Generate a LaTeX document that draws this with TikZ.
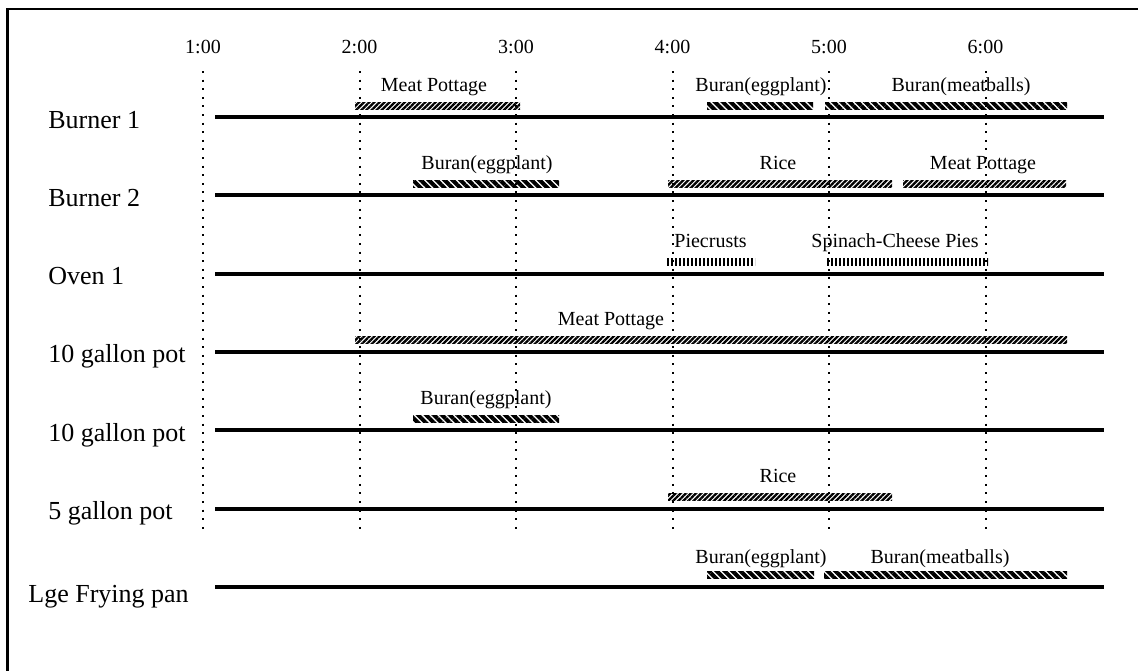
\documentclass[tikz,border=0pt]{standalone}
\usepackage{fontspec}
\setmainfont{Liberation Serif}
\usetikzlibrary{patterns.meta}
\begin{document}
\begin{tikzpicture}[x=0.5pt,y=-0.5pt,
  rowlabel/.style={font=\fontsize{13}{15}\selectfont, anchor=base west, inner sep=0pt},
  tlabel/.style={font=\fontsize{10}{12}\selectfont, anchor=base, inner sep=0pt},
  blabel/.style={font=\fontsize{10}{12}\selectfont, anchor=base, inner sep=0pt},
  track/.style={line width=2pt},
  gridline/.style={line width=1pt, dash pattern=on 1pt off 3.3pt},
  stewbar/.style={pattern={Lines[angle=45,distance=1.8pt,line width=1.15pt]}},
  buranbar/.style={pattern={Lines[angle=-45,distance=2.8pt,line width=2pt]}},
  piebar/.style={pattern={Lines[angle=90,distance=2pt,line width=0.8pt]}},
  frame/.style={line width=1.25pt}
]
\useasboundingbox (0,0) rectangle (1138,670);
\clip (0,0) rectangle (1138,670);
\draw[frame] (7.5,9) rectangle (1160,700);

% time axis
\foreach \i/\x in {1/203,2/359.5,3/516,4/672.5,5/829,6/985.5}{
  \node[tlabel] (t\i) at (\x,53) {\i:00};
  \coordinate (gt\i) at (\x,71);
  \coordinate (gb\i) at (\x,533);
  \draw[gridline] (gt\i) -- (gb\i);
}

% tracks
\foreach \i/\y in {1/117,2/195.3,3/273.6,4/351.9,5/430.2,6/508.5,7/586.8}{
  \coordinate (L\i) at (215,\y);
  \coordinate (R\i) at (1104,\y);
  \draw[track] (L\i) -- (R\i);
}

% row labels
\node[rowlabel] (r1) at (48,128) {Burner 1};
\node[rowlabel] (r2) at (48,206.3) {Burner 2};
\node[rowlabel] (r3) at (48,284.6) {Oven 1};
\node[rowlabel] (r4) at (48,362.9) {10 gallon pot};
\node[rowlabel] (r5) at (48,441.2) {10 gallon pot};
\node[rowlabel] (r6) at (48,519.5) {5 gallon pot};
\node[rowlabel] (r7) at (28,602) {Lge Frying pan};

% bars: style / x1 / x2 / track y
\foreach \s/\a/\b/\y in {
  stewbar/355/520/117, buranbar/707/813/117, buranbar/825/1067/117,
  buranbar/413/559/195.3, stewbar/668/892/195.3, stewbar/903/1066/195.3,
  piebar/667/755/273.6, piebar/825/988/273.6,
  stewbar/355/1067/351.9,
  buranbar/413/559/430.2,
  stewbar/668/892/508.5,
  buranbar/707/814/586.8, buranbar/824/1067/586.8}{
  \path[\s] (\a,\y-15) rectangle (\b,\y-8);
}

% bar labels
\node[blabel] (b1a) at (434,91) {Meat Pottage};
\node[blabel] (b1b) at (761,91) {Buran(eggplant)};
\node[blabel] (b1c) at (961,91) {Buran(meatballs)};
\node[blabel] (b2a) at (487,169.3) {Buran(eggplant)};
\node[blabel] (b2b) at (778,169.3) {Rice};
\node[blabel] (b2c) at (983,169.3) {Meat Pottage};
\node[blabel, anchor=base west] (b3a) at (674,247.6) {Piecrusts};
\node[blabel, anchor=base west] (b3b) at (811,247.6) {Spinach-Cheese Pies};
\node[blabel] (b4a) at (611,325.9) {Meat Pottage};
\node[blabel] (b5a) at (486,404.2) {Buran(eggplant)};
\node[blabel] (b6a) at (778,482.5) {Rice};
\node[blabel] (b7a) at (761,563) {Buran(eggplant)};
\node[blabel] (b7b) at (940,563) {Buran(meatballs)};
\end{tikzpicture}
\end{document}
